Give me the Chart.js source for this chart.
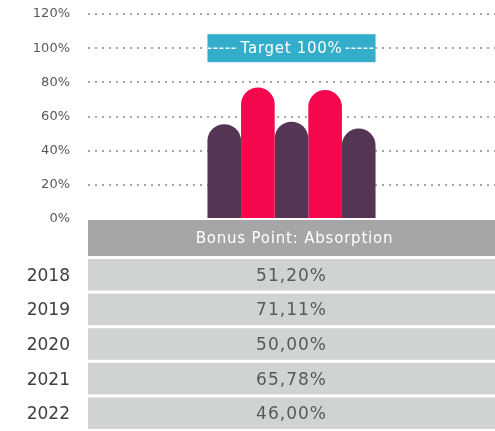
<!DOCTYPE html>
<html>
<head>
<meta charset="utf-8">
<title>Bonus Point: Absorption</title>
<script src="https://cdn.jsdelivr.net/npm/chart.js@4.4.0/dist/chart.umd.min.js"></script>
<style>
  html, body { margin: 0; padding: 0; background: #fff; }
  #wrap { position: relative; width: 495px; height: 431px; }
</style>
</head>
<body>
<div id="wrap"><canvas id="chart" width="495" height="431"></canvas></div>
<script>
// --- data -------------------------------------------------------
const years       = ['2018', '2019', '2020', '2021', '2022'];
const barValues   = [55.5, 77, 57, 75.5, 53];          // bar heights as drawn
const tableValues = ['51,20%', '71,11%', '50,00%', '65,78%', '46,00%'];
const yTicks      = [0, 20, 40, 60, 80, 100, 120];
const targetValue = [100];
const targetLabel = 'Target 100%';
const tableTitle  = 'Bonus Point: Absorption';

const PURPLE = '#543553';
const PINK   = '#F4074C';
const barColors = years.map((_, i) => (i % 2 ? PINK : PURPLE));

const FONT = "'DejaVu Sans', sans-serif";

// target box + table under the plot
const overlayPlugin = {
  id: 'overlay',
  afterDatasetsDraw(chart) {
    const { ctx, chartArea: a, scales } = chart;
    const y = scales.y;
    const meta0 = chart.getDatasetMeta(0).data[0];
    const metaN = chart.getDatasetMeta(years.length - 1).data[0];
    const left  = meta0.x - meta0.width / 2;
    const right = metaN.x + metaN.width / 2;
    const cx = (left + right) / 2;

    // target box
    const ty = y.getPixelForValue(targetValue[0]);
    ctx.save();
    ctx.fillStyle = '#33ADC9';
    ctx.fillRect(left, ty - 14, right - left, 28);
    ctx.font = `15px ${FONT}`;
    ctx.letterSpacing = '0.7px';
    const tw = ctx.measureText(targetLabel).width;
    ctx.strokeStyle = '#fff';
    ctx.lineWidth = 1.5;
    ctx.setLineDash([4, 2]);
    ctx.beginPath();
    ctx.moveTo(left, ty); ctx.lineTo(cx - tw / 2 - 3, ty);
    ctx.moveTo(cx + tw / 2 + 3, ty); ctx.lineTo(right, ty);
    ctx.stroke();
    ctx.fillStyle = '#fff';
    ctx.textAlign = 'center';
    ctx.textBaseline = 'middle';
    ctx.fillText(targetLabel, cx, ty + 1);

    // table header
    const W = chart.width;
    let top = a.bottom + 1;
    ctx.fillStyle = '#A6A6A9';
    ctx.fillRect(a.left, top, W - a.left, 36);
    ctx.fillStyle = '#fff';
    ctx.font = `15px ${FONT}`;
    ctx.letterSpacing = '0.8px';
    ctx.fillText(tableTitle, cx + 3, top + 19);
    top += 39;

    // rows
    const rowH = 34.6;
    years.forEach((yr, i) => {
      const ry = top + i * rowH;
      ctx.fillStyle = '#D0D3D4';
      ctx.fillRect(a.left, ry, W - a.left, rowH - 3);
      ctx.font = `17px ${FONT}`;
      ctx.letterSpacing = '1px';
      ctx.fillStyle = '#595959';
      ctx.textAlign = 'center';
      ctx.fillText(tableValues[i], cx, ry + rowH / 2);
      ctx.letterSpacing = '0px';
      ctx.fillStyle = '#404040';
      ctx.textAlign = 'right';
      ctx.fillText(yr, 70, ry + rowH / 2);
    });
    ctx.restore();
  }
};

new Chart(document.getElementById('chart'), {
  type: 'bar',
  data: {
    labels: [''],
    datasets: years.map((yr, i) => ({
      label: yr,
      data: [barValues[i]],
      backgroundColor: barColors[i],
      borderRadius: 17,
      borderSkipped: 'start',
      categoryPercentage: 0.413,
      barPercentage: 1,
    })),
  },
  options: {
    responsive: false,
    animation: false,
    layout: { padding: { top: 14, bottom: 212, left: 0, right: 0 } },
    plugins: { legend: { display: false }, tooltip: { enabled: false } },
    scales: {
      x: { display: false },
      y: {
        min: yTicks[0],
        max: yTicks[yTicks.length - 1],
        afterBuildTicks: s => { s.ticks = yTicks.map(v => ({ value: v })); },
        // fixed axis width; drop the label padding chart.js adds on top
        afterFit: s => { s.width = 88; s.paddingTop = 0; s.paddingBottom = 0; },
        border: { display: false, dash: [2, 5] },
        grid: {
          color: c => (c.tick && c.tick.value === 0 ? 'rgba(0,0,0,0)' : '#A6A6A6'),
          lineWidth: 2,
          drawTicks: false,
        },
        ticks: {
          padding: 18,
          color: '#595959',
          font: { size: 13, family: FONT },
          callback: v => v + '%',
        },
      },
    },
  },
  plugins: [overlayPlugin],
});
</script>
</body>
</html>
